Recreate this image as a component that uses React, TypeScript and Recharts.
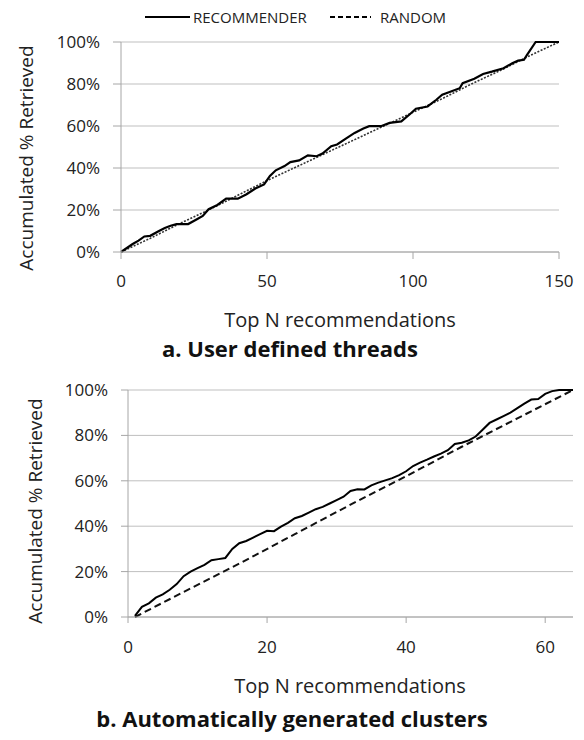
import React from 'react';
import { LineChart, Line, XAxis, YAxis, CartesianGrid, Label } from 'recharts';

// a. User defined threads — [Top N, accumulated % retrieved]
const topRecommender: [number, number][] = [
  [0, 0], [4, 3.8], [6, 5.4], [8, 7.4], [10, 7.7], [13, 10], [15, 11.4], [17, 12.5], [19, 13.3],
  [23, 13.3], [26, 15.6], [28, 17.2], [30, 20.4], [33, 22.4], [36, 25.4], [40, 25.4], [43, 27.5],
  [46, 30.2], [49, 32.2], [51, 36.2], [53, 38.9], [56, 40.9], [58, 42.8], [61, 43.6], [64, 46],
  [67, 45.6], [69, 46.9], [72, 50.4], [74, 51.2], [77, 54], [80, 56.7], [83, 58.8], [85, 59.9],
  [89, 59.9], [92, 61.5], [96, 62.2], [99, 65.7], [101, 68.2], [105, 69.3], [108, 72.5],
  [110, 74.9], [113, 76.4], [116, 78], [117, 80.4], [121, 82.5], [124, 84.8], [127, 85.9],
  [131, 87.5], [134, 89.9], [136, 91.1], [138, 91.5], [139, 93.8], [142, 100], [150, 100],
];
const topRandom: [number, number][] = [
  [0, 0], [10, 6.5], [20, 13.5], [30, 20], [40, 27], [50, 34], [60, 40.5], [70, 47],
  [80, 53.5], [90, 60], [100, 66.5], [110, 73], [120, 80], [130, 86.5], [140, 93.5], [150, 100],
];
const topXTicks = [0, 50, 100, 150];

// b. Automatically generated clusters
const bottomRecommender: number[] = [
  0.5, 4.5, 6, 8.5, 10, 12, 14.5, 18, 20, 21.5, 23, 25, 25.5, 26, 30, 32.5, 33.5, 35, 36.5, 38,
  37.8, 39.8, 41.5, 43.5, 44.5, 46, 47.5, 48.5, 50, 51.5, 53, 55.5, 56.3, 56.2, 58, 59.2, 60.2,
  61.2, 62.5, 64.2, 66.5, 68, 69.3, 70.7, 72, 73.5, 76.2, 76.8, 77.8, 79.5, 82.5, 85.5, 87, 88.5,
  90, 92, 94, 95.8, 96, 98.3, 99.5, 100, 100, 100,
];
const bottomRandom: [number, number][] = [
  [1, 0], [8, 11], [16, 23.5], [24, 36.5], [32, 49.5], [40, 62], [48, 75], [56, 87.5], [64, 100],
];
const bottomXTicks = [0, 20, 40, 60];

const yTicks = [0, 20, 40, 60, 80, 100];

const toPoints = (pairs: [number, number][]) => pairs.map(([n, pct]) => ({ n, pct }));

const FONT = '"Open Sans", sans-serif';
const GRID = '#bfbfbf';
const AXIS = '#a6a6a6';
const TEXT = '#222';
const tickStyle = { fill: TEXT, fontSize: 17, fontFamily: FONT };

const YTitle = ({ x, y }: { x: number; y: number }) => (
  <text
    x={x}
    y={y}
    transform={`rotate(-90 ${x} ${y})`}
    textAnchor="middle"
    fontSize={19}
    fontFamily={FONT}
    fill={TEXT}
  >
    Accumulated % Retrieved
  </text>
);

const XTitles = ({ titleX, titleY, subX, subY, sub }: { titleX: number; titleY: number; subX: number; subY: number; sub: string }) => (
  <g>
    <text x={titleX} y={titleY} textAnchor="middle" fontSize={20} fontFamily={FONT} fill={TEXT}>
      Top N recommendations
    </text>
    <text x={subX} y={subY} textAnchor="middle" fontSize={22} fontWeight="bold" fontFamily={FONT} fill="#111">
      {sub}
    </text>
  </g>
);

const App: React.FC = () => {
  const topRec = toPoints(topRecommender);
  const topRnd = toPoints(topRandom);
  const botRec = bottomRecommender.map((pct, i) => ({ n: i + 1, pct }));
  const botRnd = toPoints(bottomRandom);

  return (
    <div style={{ position: 'absolute', top: 0, left: 0, width: 584, height: 740, background: '#fff' }}>
      <svg width={584} height={36} style={{ position: 'absolute', top: 0, left: 0 }}>
        <line x1={145} x2={190} y1={17} y2={17} stroke="#000" strokeWidth={2} />
        <text x={193} y={22.5} fontSize={15} fontFamily={FONT} fill={TEXT}>RECOMMENDER</text>
        <line x1={330} x2={371} y1={17} y2={17} stroke="#000" strokeWidth={2} strokeDasharray="5 3" />
        <text x={380} y={22.5} fontSize={15} fontFamily={FONT} fill={TEXT}>RANDOM</text>
      </svg>

      <div style={{ position: 'absolute', top: 0, left: 0 }}>
        <LineChart width={584} height={375} margin={{ top: 42, right: 25, left: 0, bottom: 93 }}>
          <CartesianGrid vertical={false} stroke={GRID} />
          <XAxis
            type="number"
            dataKey="n"
            domain={[0, 150]}
            ticks={topXTicks}
            height={30}
            stroke={AXIS}
            tickSize={7}
            tickMargin={16}
            tick={tickStyle}
          >
            <Label content={() => <XTitles titleX={340} titleY={327} subX={290} subY={357} sub="a. User defined threads" />} />
          </XAxis>
          <YAxis
            type="number"
            domain={[0, 100]}
            ticks={yTicks}
            width={121}
            stroke={AXIS}
            tickSize={8}
            tickMargin={13}
            tick={tickStyle}
            tickFormatter={(v: number) => `${v}%`}
          >
            <Label content={() => <YTitle x={33} y={158} />} />
          </YAxis>
          <Line data={topRnd} dataKey="pct" type="linear" stroke="#333" strokeWidth={1.6} strokeDasharray="2 1.5" dot={false} isAnimationActive={false} />
          <Line data={topRec} dataKey="pct" type="linear" stroke="#000" strokeWidth={2.2} dot={false} isAnimationActive={false} />
        </LineChart>
      </div>

      <div style={{ position: 'absolute', top: 375, left: 0 }}>
        <LineChart width={584} height={365} margin={{ top: 15, right: 11, left: 0, bottom: 93 }}>
          <CartesianGrid vertical={false} stroke={GRID} />
          <XAxis
            type="number"
            dataKey="n"
            domain={[0, 64]}
            ticks={bottomXTicks}
            height={30}
            stroke={AXIS}
            tickSize={6}
            tickMargin={18}
            tick={tickStyle}
          >
            <Label content={() => <XTitles titleX={350} titleY={318} subX={292} subY={352} sub="b. Automatically generated clusters" />} />
          </XAxis>
          <YAxis
            type="number"
            domain={[0, 100]}
            ticks={yTicks}
            width={128}
            stroke={AXIS}
            tickSize={7}
            tickMargin={13}
            tick={tickStyle}
            tickFormatter={(v: number) => `${v}%`}
          >
            <Label content={() => <YTitle x={42} y={136} />} />
          </YAxis>
          <Line data={botRnd} dataKey="pct" type="linear" stroke="#111" strokeWidth={2} strokeDasharray="7 4" dot={false} isAnimationActive={false} />
          <Line data={botRec} dataKey="pct" type="linear" stroke="#000" strokeWidth={2} dot={false} isAnimationActive={false} />
        </LineChart>
      </div>
    </div>
  );
};

export default App;
